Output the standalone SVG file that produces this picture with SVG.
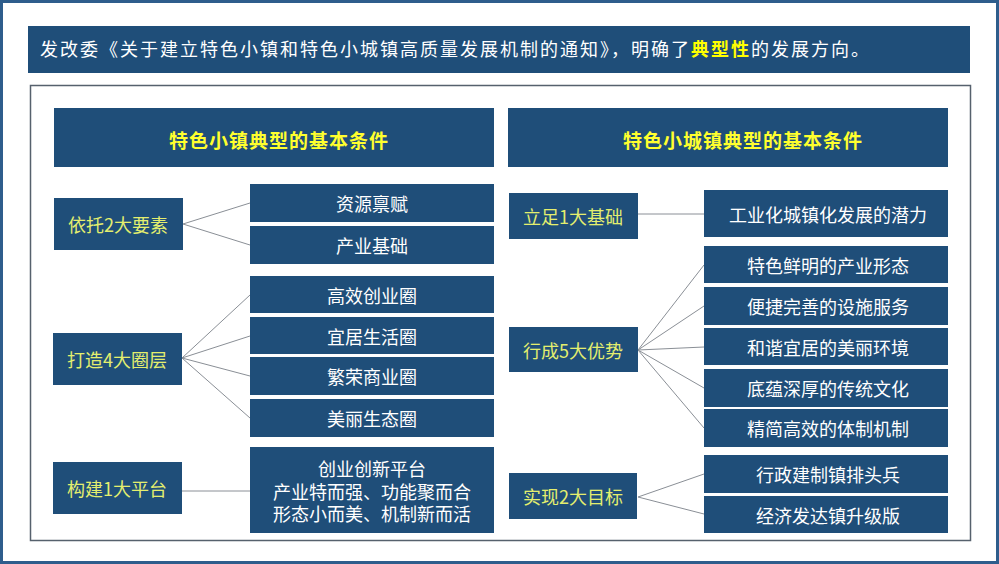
<svg xmlns="http://www.w3.org/2000/svg" width="999" height="564" viewBox="0 0 999 564">
<style>
.box{fill:#1f4e79}
.t{font-family:"Noto Sans CJK SC","Noto Sans",sans-serif;font-size:18px;fill:#ffffff;text-anchor:middle;dominant-baseline:central}
.lab{fill:#e4ee6e}
.hd{font-size:19px;font-weight:bold;fill:#ffff2e;letter-spacing:1px}
.ttl{font-family:"Noto Sans CJK SC","Noto Sans",sans-serif;font-size:18px;fill:#ffffff;letter-spacing:2px}
.hl{fill:#ffff00;font-weight:bold}
.conn line{stroke:#8a8f96;stroke-width:1}
</style>
<rect x="0" y="0" width="999" height="564" fill="#ffffff"/>
<rect x="1.5" y="1.5" width="996" height="561" fill="none" stroke="#2e5d8c" stroke-width="3"/>

<g id="title">
<rect x="28" y="26" width="942" height="47" class="box"/>
<text x="40" y="56" class="ttl">发改委《关于建立特色小镇和特色小城镇高质量发展机制的通知》，明确了<tspan class="hl">典型性</tspan>的发展方向。</text>
</g>

<rect id="frame" x="30.5" y="85.5" width="940" height="455" fill="none" stroke="#56616d" stroke-width="1.5"/>

<g id="hdr-left"><rect x="54" y="108" width="440" height="59" class="box"/><text x="279" y="139" class="t hd">特色小镇典型的基本条件</text></g>
<g id="hdr-right"><rect x="508" y="108" width="440" height="59" class="box"/><text x="743" y="139" class="t hd">特色小城镇典型的基本条件</text></g>

<g class="conn" id="connectors">
<line x1="183" y1="224" x2="250" y2="203"/>
<line x1="183" y1="224" x2="250" y2="245"/>
<line x1="182" y1="358" x2="250" y2="295"/>
<line x1="182" y1="358" x2="250" y2="336"/>
<line x1="182" y1="358" x2="250" y2="376"/>
<line x1="182" y1="358" x2="250" y2="418"/>
<line x1="182" y1="491" x2="250" y2="491"/>
<line x1="638" y1="214" x2="704" y2="214"/>
<line x1="638" y1="350" x2="704" y2="265"/>
<line x1="638" y1="350" x2="704" y2="306"/>
<line x1="638" y1="350" x2="704" y2="347"/>
<line x1="638" y1="350" x2="704" y2="388"/>
<line x1="638" y1="350" x2="704" y2="428"/>
<line x1="638" y1="497" x2="704" y2="474"/>
<line x1="638" y1="497" x2="704" y2="514"/>
</g>

<g id="n-yituo"><rect x="54" y="198" width="129" height="52" class="box"/><text x="118" y="224" class="t lab">依托2大要素</text></g>
<g id="n-ziyuan"><rect x="250" y="184" width="244" height="38" class="box"/><text x="372" y="203" class="t">资源禀赋</text></g>
<g id="n-chanye"><rect x="250" y="226" width="244" height="38" class="box"/><text x="372" y="245" class="t">产业基础</text></g>

<g id="n-dazao"><rect x="53" y="333" width="129" height="52" class="box"/><text x="117" y="359" class="t lab">打造4大圈层</text></g>
<g id="n-gaoxiao"><rect x="250" y="276" width="244" height="37" class="box"/><text x="372" y="294.5" class="t">高效创业圈</text></g>
<g id="n-yiju"><rect x="250" y="317" width="244" height="37" class="box"/><text x="372" y="335.5" class="t">宜居生活圈</text></g>
<g id="n-fanrong"><rect x="250" y="357" width="244" height="38" class="box"/><text x="372" y="376" class="t">繁荣商业圈</text></g>
<g id="n-meili"><rect x="250" y="399" width="244" height="38" class="box"/><text x="372" y="418" class="t">美丽生态圈</text></g>

<g id="n-goujian"><rect x="53" y="462" width="129" height="52" class="box"/><text x="117" y="488" class="t lab">构建1大平台</text></g>
<g id="n-pingtai"><rect x="250" y="447" width="244" height="86" class="box"/>
<text x="372" y="468" class="t"><tspan x="372" y="468">创业创新平台</tspan><tspan x="372" y="491">产业特而强、功能聚而合</tspan><tspan x="372" y="513">形态小而美、机制新而活</tspan></text></g>

<g id="n-lizu"><rect x="509" y="193" width="129" height="46" class="box"/><text x="573" y="216" class="t lab">立足1大基础</text></g>
<g id="n-gongye"><rect x="704" y="190" width="244" height="47" class="box"/><text x="828" y="213.5" class="t">工业化城镇化发展的潜力</text></g>

<g id="n-xingcheng"><rect x="509" y="327" width="129" height="45" class="box"/><text x="573" y="349.5" class="t lab">行成5大优势</text></g>
<g id="n-tese"><rect x="704" y="246" width="244" height="37" class="box"/><text x="828" y="264.5" class="t">特色鲜明的产业形态</text></g>
<g id="n-bianjie"><rect x="704" y="287" width="244" height="38" class="box"/><text x="828" y="306" class="t">便捷完善的设施服务</text></g>
<g id="n-hexie"><rect x="704" y="328" width="244" height="37" class="box"/><text x="828" y="346.5" class="t">和谐宜居的美丽环境</text></g>
<g id="n-diyun"><rect x="704" y="369" width="244" height="38" class="box"/><text x="828" y="388" class="t">底蕴深厚的传统文化</text></g>
<g id="n-jingjian"><rect x="704" y="409" width="244" height="38" class="box"/><text x="828" y="428" class="t">精简高效的体制机制</text></g>

<g id="n-shixian"><rect x="509" y="473" width="128" height="46" class="box"/><text x="573" y="496" class="t lab">实现2大目标</text></g>
<g id="n-xingzheng"><rect x="704" y="455" width="244" height="38" class="box"/><text x="828" y="474" class="t">行政建制镇排头兵</text></g>
<g id="n-jingji"><rect x="704" y="496" width="244" height="37" class="box"/><text x="828" y="514.5" class="t">经济发达镇升级版</text></g>
</svg>
